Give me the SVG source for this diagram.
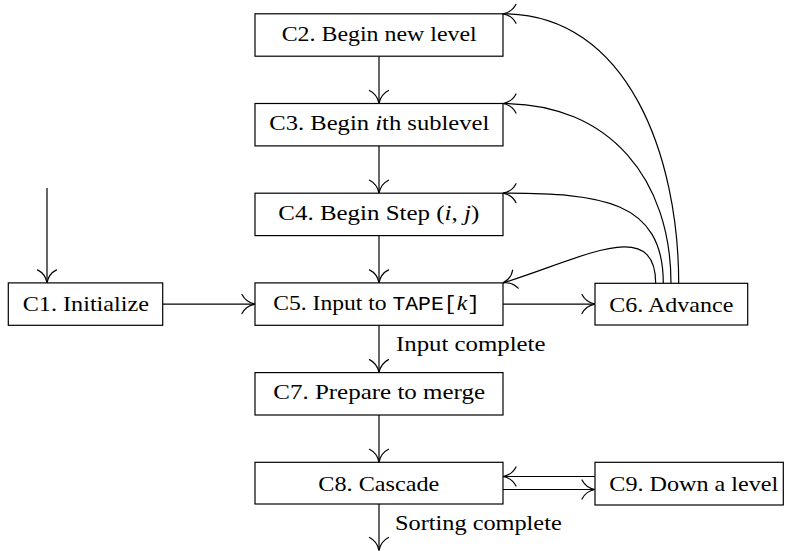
<svg xmlns="http://www.w3.org/2000/svg" width="787" height="551" viewBox="0 0 787 551">
<style>
  .box { fill: #fff; stroke: #000; stroke-width: 1.2; }
  .lbl { font-family: "Liberation Serif", "Times New Roman", serif; font-size: 22px; fill: #000; }
  .it { font-style: italic; }
  .tt { font-family: "Liberation Mono", "Courier New", monospace; font-size: 20px; }
  .edge { fill: none; stroke: #000; stroke-width: 1.2; marker-end: url(#arr); }
</style>
<defs>
  <marker id="arr" markerUnits="userSpaceOnUse" markerWidth="20" markerHeight="22" viewBox="-16 -11 20 22" refX="0" refY="0" orient="auto" overflow="visible">
    <path d="M -13,-9.5 C -10.5,-4.5 -5.5,-1 0,0 C -5.5,1 -10.5,4.5 -13,9.5" fill="none" stroke="#000" stroke-width="1.2" stroke-linecap="round"/>
  </marker>
</defs>
<rect width="787" height="551" fill="#fff"/>

<g id="connectors">
  <path class="edge" d="M47,188 V282.9"/>
  <path class="edge" d="M162.7,304.1 H255"/>
  <path class="edge" d="M503,304.1 H595"/>
  <path class="edge" d="M379,56.2 V103.5"/>
  <path class="edge" d="M379,145.9 V193.2"/>
  <path class="edge" d="M379,235.6 V282.9"/>
  <path class="edge" d="M379,325.3 V372.6"/>
  <path class="edge" d="M379,415 V462.3"/>
  <path class="edge" d="M379,504 V550.5"/>
  <path class="edge" d="M595,476.5 H503"/>
  <path class="edge" d="M503,489.5 H595"/>
  <path class="edge" d="M678.7,283.3 C678.7,157.6 628.7,13.8 503,13.8"/>
  <path class="edge" d="M671,283.3 C671,180 610,103.5 503,103.5"/>
  <path class="edge" d="M663.3,283.3 C663.3,200 600,193.2 503,193.2"/>
  <path class="edge" d="M655.7,283.3 C655.7,215 579.5,259.6 503,282.9"/>
  <text class="lbl" x="396" y="351" textLength="149.5" lengthAdjust="spacingAndGlyphs">Input complete</text>
  <text class="lbl" x="395" y="529.5" textLength="166.7" lengthAdjust="spacingAndGlyphs">Sorting complete</text>
</g>

<g id="C1">
  <rect class="box" x="8.3" y="282.9" width="154.4" height="42.4"/>
  <text class="lbl" x="22.7" y="311" textLength="126.3" lengthAdjust="spacingAndGlyphs">C1. Initialize</text>
</g>
<g id="C2">
  <rect class="box" x="255" y="13.8" width="248" height="42.4"/>
  <text class="lbl" x="281.7" y="40.7" textLength="195" lengthAdjust="spacingAndGlyphs">C2. Begin new level</text>
</g>
<g id="C3">
  <rect class="box" x="255" y="103.5" width="248" height="42.4"/>
  <text class="lbl" x="269.3" y="130.2" textLength="220" lengthAdjust="spacingAndGlyphs">C3. Begin <tspan class="it">i</tspan>th sublevel</text>
</g>
<g id="C4">
  <rect class="box" x="255" y="193.2" width="248" height="42.4"/>
  <text class="lbl" x="278.3" y="219.5" textLength="201" lengthAdjust="spacingAndGlyphs">C4. Begin Step (<tspan class="it">i</tspan>, <tspan class="it">j</tspan>)</text>
</g>
<g id="C5">
  <rect class="box" x="255" y="282.9" width="248" height="42.4"/>
  <text class="lbl" x="273.3" y="310" textLength="206.7" lengthAdjust="spacingAndGlyphs">C5. Input to <tspan class="tt">TAPE[</tspan><tspan class="it">k</tspan><tspan class="tt">]</tspan></text>
</g>
<g id="C6">
  <rect class="box" x="595" y="283.3" width="152.7" height="41.7"/>
  <text class="lbl" x="609.3" y="311.5" textLength="124" lengthAdjust="spacingAndGlyphs">C6. Advance</text>
</g>
<g id="C7">
  <rect class="box" x="255" y="372.6" width="248" height="42.4"/>
  <text class="lbl" x="273.3" y="399" textLength="211.7" lengthAdjust="spacingAndGlyphs">C7. Prepare to merge</text>
</g>
<g id="C8">
  <rect class="box" x="255" y="462.3" width="248" height="41.7"/>
  <text class="lbl" x="318.3" y="491" textLength="121" lengthAdjust="spacingAndGlyphs">C8. Cascade</text>
</g>
<g id="C9">
  <rect class="box" x="595" y="462.3" width="188.3" height="42.7"/>
  <text class="lbl" x="609.3" y="491" textLength="169" lengthAdjust="spacingAndGlyphs">C9. Down a level</text>
</g>
</svg>
